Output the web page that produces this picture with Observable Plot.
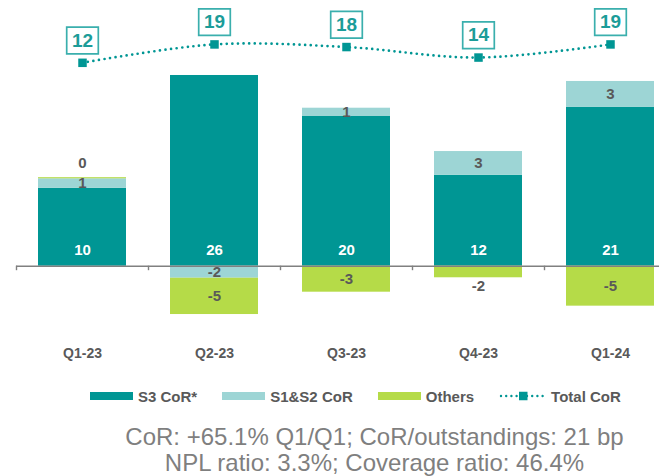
<!DOCTYPE html>
<html><head><meta charset="utf-8">
<script src="https://cdn.jsdelivr.net/npm/d3@7"></script>
<script src="https://cdn.jsdelivr.net/npm/@observablehq/plot@0.6"></script>
<style>
body{margin:0;background:#fff;font-family:"Liberation Sans",Arial,sans-serif;}
#wrap{position:relative;width:659px;height:476px;overflow:hidden;background:#fff;}
#chart{position:absolute;left:0;top:0;}
#legend{position:absolute;top:386px;left:90px;height:20px;display:flex;align-items:center;font-weight:bold;font-size:15px;color:#595959;white-space:nowrap;}
#legend .item{display:flex;align-items:center;margin-right:25px;}
#legend .sw{width:43px;height:7.5px;margin-right:5px;}
#notes{position:absolute;top:424px;left:90px;width:569px;text-align:center;font-size:24px;line-height:26px;color:#7f7f7f;}
</style></head><body>
<div id="wrap"><div id="chart"></div><div id="legend"></div><div id="notes"></div></div>
<script>
// ---- data ----
const quarters = ["Q1-23", "Q2-23", "Q3-23", "Q4-23", "Q1-24"];
const seriesNames = ["S3 CoR*", "S1&S2 CoR", "Others"];
const s3CoR = [10.44, 25.53, 20.04, 12.18, 21.29];
const s1s2CoR = [1.26, -1.61, 1.11, 3.17, 3.44];
const others = [0.15, -4.86, -3.48, -1.55, -5.35];
const totalCoR = [12, 19, 18, 14, 19];
const totalName = "Total CoR";
const noteLines = [
  "CoR: +65.1% Q1/Q1; CoR/outstandings: 21 bp",
  "NPL ratio: 3.3%; Coverage ratio: 46.4%"
];
const colors = ["#009694", "#9DD5D5", "#B5DB48"];
const lineColor = "#009694";

// ---- tables ----
const seriesValues = [s3CoR, s1s2CoR, others];
const rows = [];
quarters.forEach((q, i) => {
  seriesNames.forEach((s, j) => rows.push({q, series: s, value: seriesValues[j][i]}));
});
const totalRows = quarters.map((q, i) => ({q, total: totalCoR[i]}));
const s3Rows = quarters.map((q, i) => ({q, value: s3CoR[i]}));

// ---- scales ----
const k = 7.47, base = 265.7;
const yDomain = [-13, 31];
// secondary axis for the total line, expressed in primary units
const totalAxis = d3.scaleLinear().domain([0, 40]).range([23.01, 37.07]);
const fmt = v => String(Math.round(v));
const labelFill = "#595959";
const FF = "Liberation Sans, Arial, sans-serif";

const boxSymbol = {draw(ctx) {
  const w = 15.8, h = 13.3;
  ctx.moveTo(-w, -h); ctx.lineTo(w, -h); ctx.lineTo(w, h); ctx.lineTo(-w, h); ctx.closePath();
}};

const small = d => Math.abs(d.value) < 2;

const chart = Plot.plot({
  width: 659, height: 375,
  marginLeft: 16, marginRight: 0, marginTop: 0, marginBottom: 0,
  style: {fontFamily: FF, background: "white", overflow: "visible"},
  x: {type: "band", domain: quarters, range: [16, 676], paddingInner: 1/3, paddingOuter: 1/6, axis: null},
  y: {domain: yDomain, range: [base - yDomain[0] * k, base - yDomain[1] * k], axis: null},
  color: {domain: seriesNames, range: colors},
  marks: [
    Plot.barY(rows, {x: "q", y: "value", fill: "series", order: seriesNames}),
    Plot.ruleY([0], {stroke: "#808080", strokeWidth: 1.4}),
    Plot.ruleX(quarters, {x: d => d, y1: 0, y2: -4.5 / k, dx: -66, stroke: "#808080", strokeWidth: 1.4}),
    // S3 labels near base
    Plot.text(s3Rows, {x: "q", y: 0, dy: -16.4, text: d => fmt(d.value), fill: "white", fontWeight: "bold", fontSize: 15, fontFamily: FF}),
    // mid-segment labels
    Plot.text(rows, Plot.stackY({x: "q", y: "value", z: "series", order: seriesNames,
      text: d => (d.series !== seriesNames[0] && !(d.series === seriesNames[2] && small(d))) ? fmt(d.value) : "",
      fill: labelFill, fontWeight: "bold", fontSize: 15, fontFamily: FF})),
    // small "Others" labels outside the stack end
    Plot.text(rows, Plot.stackY2({x: "q", y: "value", z: "series", order: seriesNames,
      text: d => (d.series === seriesNames[2] && small(d) && d.value >= 0) ? fmt(d.value) : "",
      dy: -14.5, fill: labelFill, fontWeight: "bold", fontSize: 15, fontFamily: FF})),
    Plot.text(rows, Plot.stackY2({x: "q", y: "value", z: "series", order: seriesNames,
      text: d => (d.series === seriesNames[2] && small(d) && d.value < 0) ? fmt(d.value) : "",
      dy: 8, fill: labelFill, fontWeight: "bold", fontSize: 15, fontFamily: FF})),
    // category labels
    Plot.text(quarters, {x: d => d, y: yDomain[0], dy: -10, text: d => d, fill: labelFill, fontWeight: "bold", fontSize: 14, fontFamily: FF}),
    // total line
    Plot.line(totalRows, {x: "q", y: d => totalAxis(d.total), curve: "catmull-rom",
      stroke: lineColor, strokeWidth: 2.7, strokeDasharray: "0 5.6", strokeLinecap: "round"}),
    Plot.dot(totalRows, {x: "q", y: d => totalAxis(d.total), symbol: "square", r: 4.8, fill: lineColor, stroke: null}),
    Plot.dot(totalRows, {x: "q", y: d => totalAxis(d.total), symbol: boxSymbol, dy: -22.3,
      fill: "white", stroke: "#3AAFAD", strokeWidth: 1.7}),
    Plot.text(totalRows, {x: "q", y: d => totalAxis(d.total), dy: -22.3, text: d => fmt(d.total),
      fill: "#1B9C99", fontWeight: "bold", fontSize: 19, fontFamily: FF})
  ]
});
document.getElementById("chart").appendChild(chart);

// ---- legend ----
const legend = document.getElementById("legend");
seriesNames.forEach((s, j) => {
  const it = document.createElement("div"); it.className = "item";
  const sw = document.createElement("div"); sw.className = "sw"; sw.style.background = colors[j];
  const tx = document.createElement("span"); tx.textContent = s;
  it.appendChild(sw); it.appendChild(tx); legend.appendChild(it);
});
{
  const it = document.createElement("div"); it.className = "item";
  const ns = "http://www.w3.org/2000/svg";
  const svg = document.createElementNS(ns, "svg");
  svg.setAttribute("width", 48); svg.setAttribute("height", 12);
  svg.style.marginRight = "4px";
  const ln = document.createElementNS(ns, "line");
  ln.setAttribute("x1", 2); ln.setAttribute("x2", 46); ln.setAttribute("y1", 6); ln.setAttribute("y2", 6);
  ln.setAttribute("stroke", lineColor); ln.setAttribute("stroke-width", 2.4);
  ln.setAttribute("stroke-dasharray", "0 5.2"); ln.setAttribute("stroke-linecap", "round");
  const rc = document.createElementNS(ns, "rect");
  rc.setAttribute("x", 20); rc.setAttribute("y", 1.75); rc.setAttribute("width", 8.5); rc.setAttribute("height", 8.5);
  rc.setAttribute("fill", lineColor);
  svg.appendChild(ln); svg.appendChild(rc);
  const tx = document.createElement("span"); tx.textContent = totalName;
  it.appendChild(svg); it.appendChild(tx); legend.appendChild(it);
}
// ---- notes ----
const notes = document.getElementById("notes");
noteLines.forEach(t => { const d = document.createElement("div"); d.textContent = t; notes.appendChild(d); });
</script>
</body></html>
